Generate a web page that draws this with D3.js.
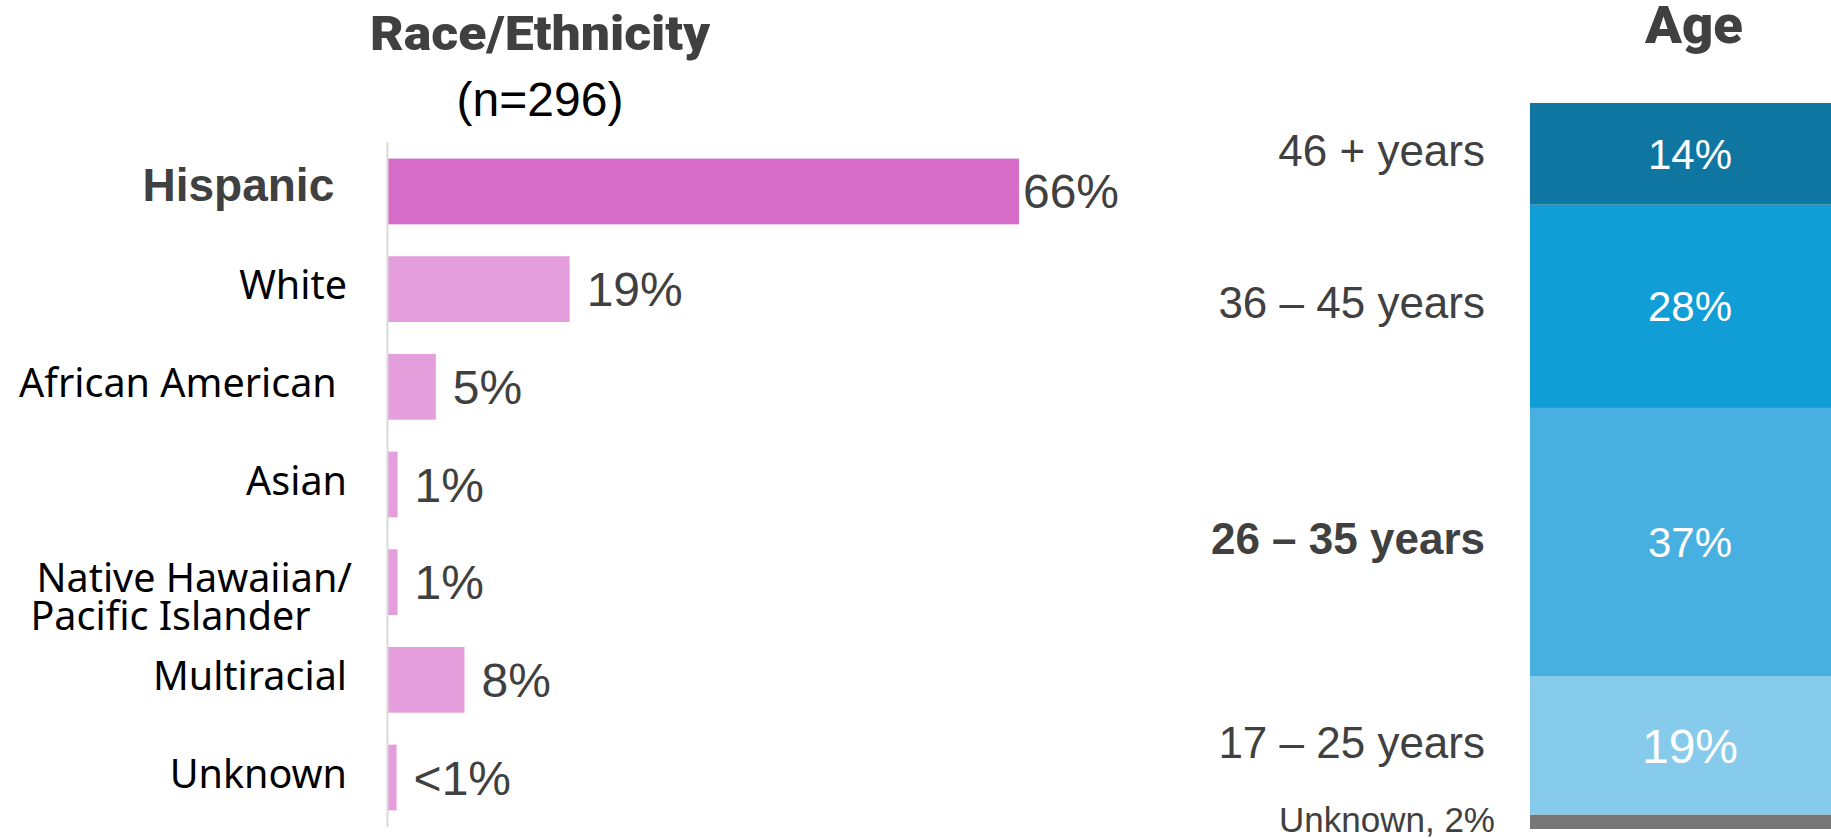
<!DOCTYPE html>
<html>
<head>
<meta charset="utf-8">
<script src="https://cdn.jsdelivr.net/npm/d3@7"></script>
<style>
  body { margin: 0; background: #fff; }
  svg { display: block; }
</style>
</head>
<body>
<div class="canvas"></div>
<script>
// race / ethnicity bars (top to bottom)
const raceCategories = ['Hispanic', 'White', 'African American', 'Asian', 'Native Hawaiian/|Pacific Islander', 'Multiracial', 'Unknown'];
const raceValues = [66, 19, 5, 1, 1, 8, 0.9];
const raceLabels = ['66%', '19%', '5%', '1%', '1%', '8%', '<1%'];

// age stack (bottom to top)
const ageGroups = ['Unknown', '17 – 25 years', '26 – 35 years', '36 – 45 years', '46 + years'];
const ageValues = [2, 19, 37, 28, 14];
const ageLabels = ['Unknown, 2%', '19%', '37%', '28%', '14%'];

const dims = { width: 1831, height: 838 };
const grey = '#404040';

const svg = d3.select('.canvas')
    .append('svg')
    .attr('width', dims.width)
    .attr('height', dims.height);

svg.append('rect').attr('width', dims.width).attr('height', dims.height).attr('fill', '#fff');

// ---------- race / ethnicity ----------
const x = d3.scaleLinear().domain([0, 100]).range([388, 388 + 956]);
const y = d3.scaleBand()
    .domain(raceCategories)
    .range([142, 827])
    .paddingInner(0.327)
    .paddingOuter(0.17);

const race = raceCategories.map((c, i) => ({ name: c, value: raceValues[i], label: raceLabels[i] }));
const maxRace = d3.max(raceValues);

svg.append('text')
    .attr('x', 540).attr('y', 50)
    .attr('text-anchor', 'middle')
    .attr('font-family', 'Roboto, Liberation Sans, sans-serif')
    .attr('font-weight', 900)
    .attr('font-size', 49)
    .attr('fill', grey)
    .attr('textLength', 340)
    .attr('lengthAdjust', 'spacingAndGlyphs')
    .text('Race/Ethnicity');

svg.append('text')
    .attr('x', 540).attr('y', 116)
    .attr('text-anchor', 'middle')
    .attr('font-family', 'Liberation Sans, Arial, sans-serif')
    .attr('font-size', 48)
    .attr('fill', '#000')
    .text('(n=296)');

const graph = svg.append('g').attr('class', 'raceGroup');

graph.selectAll('rect.bar')
    .data(race)
    .enter().append('rect')
        .attr('class', 'bar')
        .attr('x', x(0))
        .attr('y', d => y(d.name))
        .attr('width', d => x(d.value) - x(0))
        .attr('height', y.bandwidth())
        .attr('fill', d => d.value === maxRace ? '#D76DC9' : '#E49EDC');

// axis line
svg.append('line')
    .attr('x1', x(0) - 0.5).attr('x2', x(0) - 0.5)
    .attr('y1', y.range()[0]).attr('y2', y.range()[1])
    .attr('stroke', '#D9D9D9')
    .attr('stroke-width', 2);

// value labels
graph.selectAll('text.value')
    .data(race)
    .enter().append('text')
        .attr('class', 'value')
        .attr('x', d => x(d.value) + (d.value === maxRace ? 4 : 17))
        .attr('y', d => y(d.name) + y.bandwidth() / 2 + 17)
        .attr('font-family', 'Liberation Sans, Arial, sans-serif')
        .attr('font-size', 48)
        .attr('fill', grey)
        .text(d => d.label);

// category labels
const labelX = 347;
graph.selectAll('text.cat')
    .data(race)
    .enter().append('text')
        .attr('class', 'cat')
        .attr('text-anchor', 'end')
        .attr('x', labelX)
        .attr('y', d => y(d.name) + y.bandwidth() / 2 + 10)
        .attr('font-family', d => d.value === maxRace ? 'Liberation Sans, Arial, sans-serif' : 'Noto Sans, sans-serif')
        .attr('font-weight', d => d.value === maxRace ? 'bold' : 'normal')
        .attr('font-size', d => d.value === maxRace ? 46 : 39.5)
        .attr('fill', d => d.value === maxRace ? grey : '#000')
        .each(function(d) {
            const lines = d.name.split('|');
            const t = d3.select(this);
            if (lines.length === 1) {
                t.text(d.name === 'Hispanic' || d.name === 'African American' ? d.name + '\u00a0' : d.name);
                return;
            }
            // two line label: first line right aligned, second starts a bit left of it
            const first = t.append('tspan').text(lines[0]);
            const w = first.node().getComputedTextLength();
            t.attr('text-anchor', 'start');
            first.attr('x', labelX + 5 - w);
            t.append('tspan')
                .attr('x', labelX + 5 - w - 6)
                .attr('dy', 38)
                .text(lines[1]);
        });

// ---------- age ----------
const ageY = d3.scaleLinear().domain([0, 100]).range([829, 103]);
const ageColor = d3.scaleOrdinal()
    .domain(ageGroups)
    .range(['#767676', '#86CBEC', '#47B0E0', '#119ED6', '#0E76A1']);

const ends = d3.cumsum(ageValues);
const age = ageGroups.map((g, i) => ({
    name: g, value: ageValues[i], label: ageLabels[i],
    y0: ends[i] - ageValues[i], y1: ends[i]
}));
const maxAge = d3.max(ageValues);

const barX = 1530, barW = 320;
const ageGroup = svg.append('g').attr('class', 'ageGroup');

svg.append('text')
    .attr('x', 1694).attr('y', 43)
    .attr('text-anchor', 'middle')
    .attr('font-family', 'Roboto, Liberation Sans, sans-serif')
    .attr('font-weight', 900)
    .attr('font-size', 51)
    .attr('fill', grey)
    .attr('textLength', 98)
    .attr('lengthAdjust', 'spacingAndGlyphs')
    .text('Age');

ageGroup.selectAll('rect')
    .data(age)
    .enter().append('rect')
        .attr('x', barX)
        .attr('y', d => ageY(d.y1))
        .attr('width', barW)
        .attr('height', d => ageY(d.y0) - ageY(d.y1))
        .attr('fill', d => ageColor(d.name));

// percentages inside the segments (not for the thin unknown one)
ageGroup.selectAll('text.inside')
    .data(age.filter(d => d.name !== 'Unknown'))
    .enter().append('text')
        .attr('class', 'inside')
        .attr('x', 1690)
        .attr('y', d => (ageY(d.y0) + ageY(d.y1)) / 2 + (d.name.startsWith('17') ? 17 : 15))
        .attr('text-anchor', 'middle')
        .attr('font-family', 'Liberation Sans, Arial, sans-serif')
        .attr('font-size', d => d.name.startsWith('17') ? 48 : 42)
        .attr('fill', '#fff')
        .text(d => d.label);

// group names on the left
ageGroup.selectAll('text.name')
    .data(age)
    .enter().append('text')
        .attr('class', 'name')
        .attr('x', d => d.name === 'Unknown' ? 1495 : 1485)
        .attr('y', d => (ageY(d.y0) + ageY(d.y1)) / 2 + (d.name === 'Unknown' ? 10 : 12))
        .attr('text-anchor', 'end')
        .attr('font-family', 'Liberation Sans, Arial, sans-serif')
        .attr('font-weight', d => d.value === maxAge ? 'bold' : 'normal')
        .attr('font-size', d => d.name === 'Unknown' ? 35 : 44)
        .attr('fill', grey)
        .text(d => d.name === 'Unknown' ? d.label : d.name);
</script>
</body>
</html>
